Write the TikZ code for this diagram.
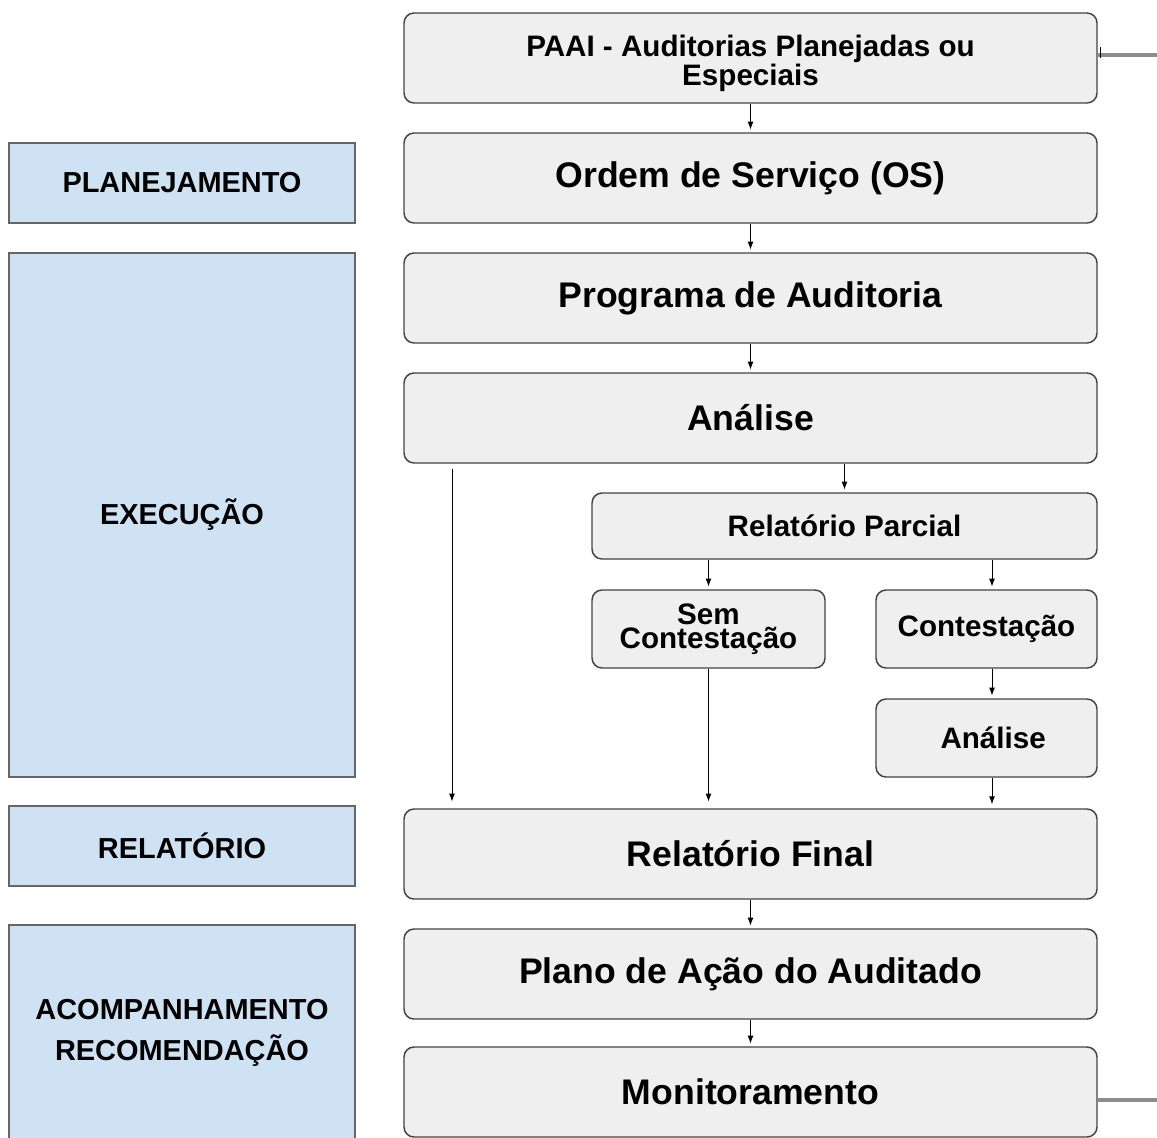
\documentclass[tikz,border=0pt]{standalone}
\usepackage{fontspec}
\setmainfont{Liberation Sans}
\usetikzlibrary{arrows.meta}

\definecolor{stepfill}{HTML}{EFEFEF}
\definecolor{stepline}{HTML}{434343}
\definecolor{phasefill}{HTML}{CFE2F3}
\definecolor{phaseline}{HTML}{666666}
\definecolor{stubline}{HTML}{8C8C8C}

\tikzset{
  stepbox/.style 2 args={draw=stepline, fill=stepfill, line width=1.1pt, rounded corners=7.5pt,
    minimum width=#1*0.75pt, minimum height=#2*0.75pt, inner sep=0pt, align=center},
  phasebox/.style 2 args={draw=phaseline, fill=phasefill, line width=1.1pt,
    minimum width=#1*0.75pt, minimum height=#2*0.75pt, inner sep=0pt, align=center},
  bigtext/.style={font=\fontsize{26.7}{30}\selectfont\bfseries},
  midtext/.style={font=\fontsize{22.2}{18}\selectfont\bfseries},
  phasetext/.style={font=\fontsize{21.7}{30.75}\selectfont\bfseries},
  flow/.style={-{Latex[length=6pt,width=4.5pt]}, line width=0.75pt, shorten >=2pt},
  stub/.style={draw=stubline, line width=2.6pt}
}

\begin{document}
\begin{tikzpicture}[x=0.75pt,y=0.75pt,yscale=-1]
\useasboundingbox (0,0) rectangle (1157,1138);
\clip (0,0) rectangle (1157,1138);

% phases (left column)
\node[phasebox={346}{80}, phasetext] (plan) at (182,183) {PLANEJAMENTO};
\node[phasebox={346}{524}, phasetext] (exec) at (182,515) {EXECUÇÃO};
\node[phasebox={346}{80}, phasetext] (rel) at (182,846) {RELATÓRIO};
\node[phasebox={346}{216}, phasetext] (acomp) at (182,1033) {ACOMPANHAMENTO\\RECOMENDAÇÃO};

% steps
\node[stepbox={693}{90}, midtext] (paai) at (750.5,58) {\rule{0pt}{23.5pt}PAAI - Auditorias Planejadas ou\\Especiais};
\node[stepbox={693}{90}, bigtext] (os) at (750.5,178) {Ordem de Serviço (OS)};
\node[stepbox={693}{90}, bigtext] (prog) at (750.5,298) {Programa de Auditoria};
\node[stepbox={693}{90}, bigtext] (analise) at (750.5,418) {Análise};
\node[stepbox={505}{66}, midtext] (parcial) at (844.5,526) {Relatório Parcial};
\node[stepbox={233}{78}, midtext] (semcont) at (708.5,629) {Sem\\Contestação};
\node[stepbox={221}{78}, midtext] (cont) at (986.5,629) {Contestação};
\node[stepbox={221}{78}, midtext] (analise2) at (986.5,738) {\hspace*{10pt}Análise};
\node[stepbox={693}{90}, bigtext] (final) at (750.5,854) {Relatório Final};
\node[stepbox={693}{90}, bigtext] (plano) at (750.5,974) {Plano de Ação do Auditado};
\node[stepbox={693}{90}, bigtext] (monit) at (750.5,1092) {Monitoramento};

% connectors
\coordinate (left) at (452,0);
\coordinate (right) at (992,0);
\draw[flow] (paai) -- (os);
\draw[flow] (os) -- (prog);
\draw[flow] (prog) -- (analise);
\draw[flow] (parcial |- analise.south) -- (parcial);
\draw[flow, shorten <=3.75pt, shorten >=5pt] (left |- analise.south) -- (left |- final.north);
\draw[flow] (semcont |- parcial.south) -- (semcont);
\draw[flow, shorten >=5pt] (semcont) -- (semcont |- final.north);
\draw[flow] (right |- parcial.south) -- (right |- cont.north);
\draw[flow] (right |- cont.south) -- (right |- analise2.north);
\draw[flow, shorten >=3pt] (right |- analise2.south) -- (right |- final.north);
\draw[flow] (final) -- (plano);
\draw[flow] (plano) -- (monit);

% stubs leaving the frame
\coordinate (out1) at (1157,55);
\coordinate (out2) at (1157,1100);
\draw[stub] (paai.east |- out1) -- (out1);
\draw[stub] (monit.east |- out2) -- (out2);
\draw[line width=0.75pt] (1100,47) -- (1100,58);

\end{tikzpicture}
\end{document}
